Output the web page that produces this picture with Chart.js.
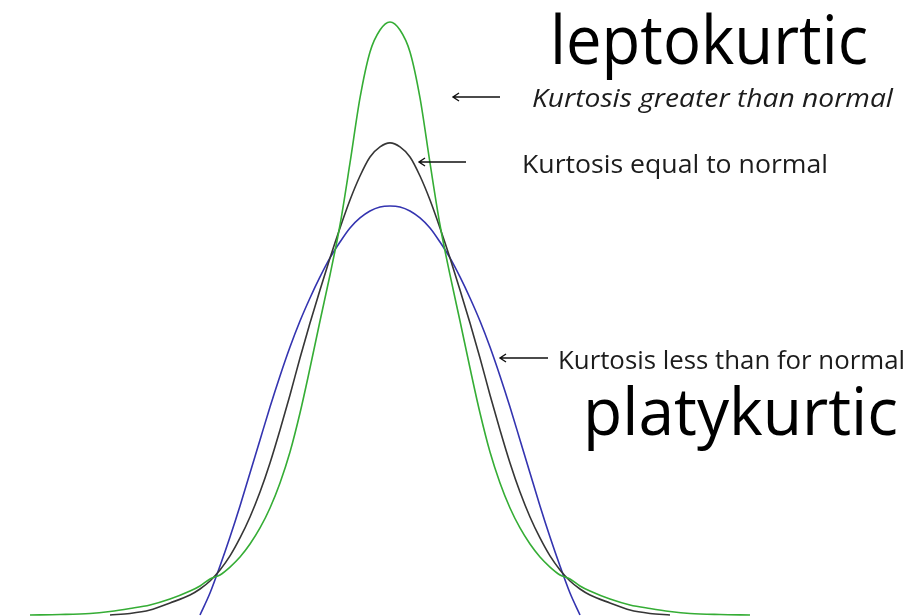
<!DOCTYPE html>
<html>
<head>
<meta charset="utf-8">
<script src="https://cdn.jsdelivr.net/npm/chart.js@4/dist/chart.umd.min.js"></script>
<style>
  html, body { margin: 0; padding: 0; background: #fff; }
  #kurtosis { display: block; }
</style>
</head>
<body>
<canvas id="kurtosis" width="908" height="616"></canvas>
<script>
// z in standard deviations of the normal curve
const zPoints = [
  -4.5, -4.125, -3.75, -3.5, -3.25, -3, -2.75, -2.5, -2.375, -2.25, -2.125, -2, -1.875, -1.75,
  -1.625, -1.5, -1.375, -1.25, -1.125, -1, -0.875, -0.75, -0.625, -0.5, -0.375, -0.25, -0.125,
  0,
  0.125, 0.25, 0.375, 0.5, 0.625, 0.75, 0.875, 1, 1.125, 1.25, 1.375, 1.5, 1.625, 1.75,
  1.875, 2, 2.125, 2.25, 2.375, 2.5, 2.75, 3, 3.25, 3.5, 3.75, 4.125, 4.5
];

// leptokurtic: tall peak, fat tails
const leptoDensity = [
  0, 0.0004, 0.0013, 0.0030, 0.0055, 0.0085, 0.0135, 0.0203, 0.0246, 0.0305, 0.0339, 0.0406, 0.0491, 0.0601,
  0.0737, 0.0906, 0.1118, 0.1380, 0.1710, 0.2091, 0.2489, 0.2879, 0.3302, 0.3827, 0.4378, 0.4767, 0.4953,
  0.5021,
  0.4953, 0.4767, 0.4378, 0.3827, 0.3302, 0.2879, 0.2489, 0.2091, 0.1710, 0.1380, 0.1118, 0.0906, 0.0737, 0.0601,
  0.0491, 0.0406, 0.0339, 0.0305, 0.0246, 0.0203, 0.0135, 0.0085, 0.0055, 0.0030, 0.0013, 0.0004, 0
];

// normal curve
const normalDensity = [
  null, null, null, 0, 0.0013, 0.0042, 0.0102, 0.0169, 0.0220, 0.0288, 0.0381, 0.0500, 0.0652, 0.0830,
  0.1041, 0.1287, 0.1566, 0.1863, 0.2176, 0.2472, 0.2752, 0.3023, 0.3277, 0.3514, 0.3717, 0.3878, 0.3963,
  0.3997,
  0.3963, 0.3878, 0.3717, 0.3514, 0.3277, 0.3023, 0.2752, 0.2472, 0.2176, 0.1863, 0.1566, 0.1287, 0.1041, 0.0830,
  0.0652, 0.0500, 0.0381, 0.0288, 0.0220, 0.0169, 0.0102, 0.0042, 0.0013, 0, null, null, null
];

// platykurtic: flat top, short tails
const platyDensity = [
  null, null, null, null, null, null, null, null, 0, 0.0186, 0.0415, 0.0660, 0.0923, 0.1202,
  0.1482, 0.1761, 0.2024, 0.2269, 0.2489, 0.2684, 0.2862, 0.3023, 0.3158, 0.3277, 0.3362, 0.3421, 0.3455,
  0.3463,
  0.3455, 0.3421, 0.3362, 0.3277, 0.3158, 0.3023, 0.2862, 0.2684, 0.2489, 0.2269, 0.2024, 0.1761, 0.1482, 0.1202,
  0.0923, 0.0660, 0.0415, 0.0186, 0, null, null, null, null, null, null, null, null
];

const seriesNames = ["leptokurtic", "normal", "platykurtic"];

function toPoints(values) {
  return zPoints.map((z, i) => ({ x: z, y: values[i] }));
}

// text drawn at a given size, squeezed to a given width
function drawFitted(ctx, text, left, baseline, width, font, color) {
  ctx.save();
  ctx.font = font;
  ctx.fillStyle = color;
  ctx.textBaseline = "alphabetic";
  let w = ctx.measureText(text).width;
  ctx.translate(left, baseline);
  ctx.scale(width / w, 1);
  ctx.fillText(text, 0, 0);
  ctx.restore();
}

function drawArrow(ctx, tipX, tailX, y) {
  ctx.save();
  ctx.strokeStyle = "#111";
  ctx.lineWidth = 1.4;
  ctx.beginPath();
  ctx.moveTo(tailX, y);
  ctx.lineTo(tipX, y);
  ctx.moveTo(tipX + 6, y - 4);
  ctx.lineTo(tipX, y);
  ctx.lineTo(tipX + 6, y + 4);
  ctx.stroke();
  ctx.restore();
}

const labelsPlugin = {
  id: "kurtosisLabels",
  afterDraw(chart) {
    let ctx = chart.ctx;
    drawFitted(ctx, "leptokurtic", 550, 64, 318, '67px "Open Sans"', "#000");
    drawFitted(ctx, "platykurtic", 583, 435, 315, '66px "Open Sans"', "#000");
    drawFitted(ctx, "Kurtosis greater than normal", 532, 107, 361, 'italic 25px "Open Sans"', "#1c1c1c");
    drawFitted(ctx, "Kurtosis equal to normal", 522, 173, 306, '25px "Open Sans"', "#1c1c1c");
    drawFitted(ctx, "Kurtosis less than for normal", 558, 369, 347, '25px "Open Sans"', "#1c1c1c");
    drawArrow(ctx, 453, 500, 97);
    drawArrow(ctx, 419, 466, 162);
    drawArrow(ctx, 500, 548, 358);
  }
};

const ctx = document.getElementById("kurtosis").getContext("2d");
new Chart(ctx, {
  type: "line",
  data: {
    datasets: [
      { label: seriesNames[0], data: toPoints(leptoDensity), borderColor: "#35ad35" },
      { label: seriesNames[1], data: toPoints(normalDensity), borderColor: "#363636" },
      { label: seriesNames[2], data: toPoints(platyDensity), borderColor: "#3434b0" }
    ]
  },
  options: {
    responsive: false,
    animation: false,
    layout: { padding: 0 },
    elements: {
      point: { radius: 0 },
      line: { borderWidth: 1.6, cubicInterpolationMode: "monotone", fill: false }
    },
    scales: {
      x: { type: "linear", min: -4.875, max: 6.475, display: false },
      y: { type: "linear", min: -0.00085, max: 0.5207, display: false }
    },
    plugins: {
      legend: { display: false },
      tooltip: { enabled: false }
    }
  },
  plugins: [labelsPlugin]
});
</script>
</body>
</html>
